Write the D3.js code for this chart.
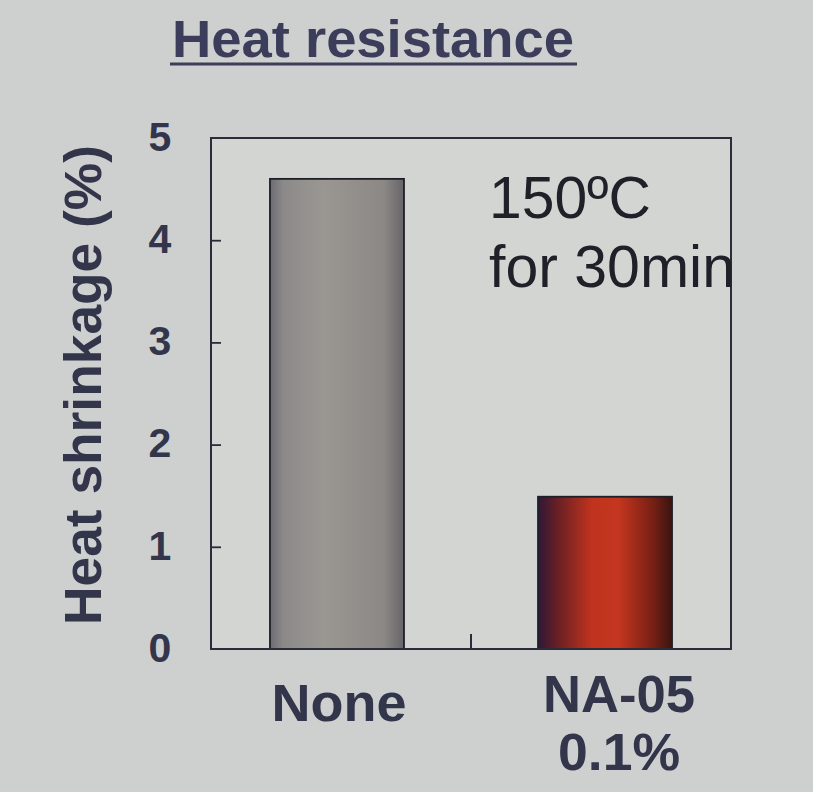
<!DOCTYPE html>
<html><head><meta charset="utf-8">
<script src="https://cdn.jsdelivr.net/npm/d3@7"></script>
<style>
html,body{margin:0;padding:0;background:#cdd0cf;}
svg{display:block;}
</style></head>
<body>
<script>
const categories = ["None", "NA-05"];
const categoryLines = [["None"], ["NA-05", "0.1%"]];
const values = [4.6, 1.49];
const yTicks = [0, 1, 2, 3, 4, 5];
const titleText = "Heat resistance";
const yLabel = "Heat shrinkage (%)";
const noteLines = ["150ºC", "for 30min"];

const W = 813, H = 792;
const m = {left: 211, right: 731, top: 138, bottom: 649};
const svg = d3.select("body").append("svg").attr("width", W).attr("height", H);
const FONT = "Liberation Sans, Arial, Helvetica, sans-serif";

svg.append("rect").attr("width", W).attr("height", H).attr("fill", "#cdd0cf");
svg.append("rect").attr("x", m.left).attr("y", m.top)
  .attr("width", m.right - m.left).attr("height", m.bottom - m.top).attr("fill", "#d3d5d3");

const defs = svg.append("defs");
const gGray = defs.append("linearGradient").attr("id", "gGray").attr("x1", "0%").attr("x2", "100%");
[["0%", "#6c6b74"], ["10%", "#8c8a88"], ["40%", "#9a9793"], ["85%", "#8b8885"], ["100%", "#66646a"]]
  .forEach(([o, c]) => gGray.append("stop").attr("offset", o).attr("stop-color", c));
const gRed = defs.append("linearGradient").attr("id", "gRed").attr("x1", "0%").attr("x2", "100%");
[["0%", "#2e1838"], ["15%", "#6a2024"], ["40%", "#c0331e"], ["60%", "#c4361f"], ["85%", "#7a2015"], ["100%", "#3a1410"]]
  .forEach(([o, c]) => gRed.append("stop").attr("offset", o).attr("stop-color", c));
const fills = ["url(#gGray)", "url(#gRed)"];

const x = d3.scaleBand().domain(categories).range([m.left, m.right]).paddingInner(0.5).paddingOuter(0.22);
const y = d3.scaleLinear().domain([0, 5]).range([m.bottom, m.top]);

const ink = "#33354b";

svg.selectAll(".bar").data(values).join("rect")
  .attr("x", (d, i) => x(categories[i]))
  .attr("y", d => y(d))
  .attr("width", x.bandwidth())
  .attr("height", d => y(0) - y(d))
  .attr("fill", (d, i) => fills[i])
  .attr("stroke", "#1f1f28").attr("stroke-width", 1.8);

svg.append("rect").attr("x", m.left).attr("y", m.top)
  .attr("width", m.right - m.left).attr("height", m.bottom - m.top)
  .attr("fill", "none").attr("stroke", "#2a2c3a").attr("stroke-width", 2);

const yAxis = d3.axisRight(y).tickValues(yTicks.slice(1, 5)).tickSize(10).tickFormat("");
const ya = svg.append("g").attr("transform", `translate(${m.left},0)`).call(yAxis);
ya.select(".domain").remove();
ya.selectAll("line").attr("stroke", "#2a2c3a").attr("stroke-width", 1.8);

svg.selectAll(".ylab").data(yTicks).join("text")
  .attr("x", 160).attr("y", d => y(d) - 2)
  .attr("dy", "0.36em").attr("text-anchor", "middle")
  .attr("font-family", FONT)
  .attr("font-weight", "bold").attr("font-size", 41).attr("fill", ink)
  .text(d => d);

const mid = (x(categories[0]) + x.bandwidth() + x(categories[1])) / 2;
svg.append("line").attr("x1", mid).attr("x2", mid).attr("y1", m.bottom - 15).attr("y2", m.bottom)
  .attr("stroke", "#2a2c3a").attr("stroke-width", 2);

// x labels
const labelShift = [2, 14];
const labelBase = [721, 712];
const labelLen = [[135], [152, 122]];
categoryLines.forEach((lines, i) => {
  const cx = x(categories[i]) + x.bandwidth() / 2 + labelShift[i];
  lines.forEach((t, j) => {
    svg.append("text").attr("x", cx).attr("y", labelBase[i] + j * 58)
      .attr("text-anchor", "middle")
      .attr("font-family", FONT)
      .attr("font-weight", "bold").attr("font-size", 51).attr("fill", ink)
      .attr("textLength", labelLen[i][j]).attr("lengthAdjust", "spacingAndGlyphs")
      .text(t);
  });
});

svg.append("text")
  .attr("transform", `translate(101,385) rotate(-90)`)
  .attr("text-anchor", "middle")
  .attr("font-family", FONT)
  .attr("font-weight", "bold").attr("font-size", 51).attr("fill", ink)
  .attr("textLength", 480).attr("lengthAdjust", "spacingAndGlyphs")
  .text(yLabel);

const noteLen = [162, 246];
noteLines.forEach((t, j) => {
  svg.append("text").attr("x", 489).attr("y", 218 + j * 69)
    .attr("font-family", FONT)
    .attr("font-size", 59).attr("fill", "#202028")
    .attr("textLength", noteLen[j]).attr("lengthAdjust", "spacingAndGlyphs")
    .text(t);
});

svg.append("text").attr("x", 373).attr("y", 57).attr("text-anchor", "middle")
  .attr("font-family", FONT)
  .attr("font-weight", "bold").attr("font-size", 51).attr("fill", "#3c3d5a")
  .attr("textLength", 402).attr("lengthAdjust", "spacingAndGlyphs")
  .text(titleText);
svg.append("line").attr("x1", 170).attr("x2", 577).attr("y1", 64).attr("y2", 64)
  .attr("stroke", "#3c3d5a").attr("stroke-width", 3);
</script>
</body></html>
